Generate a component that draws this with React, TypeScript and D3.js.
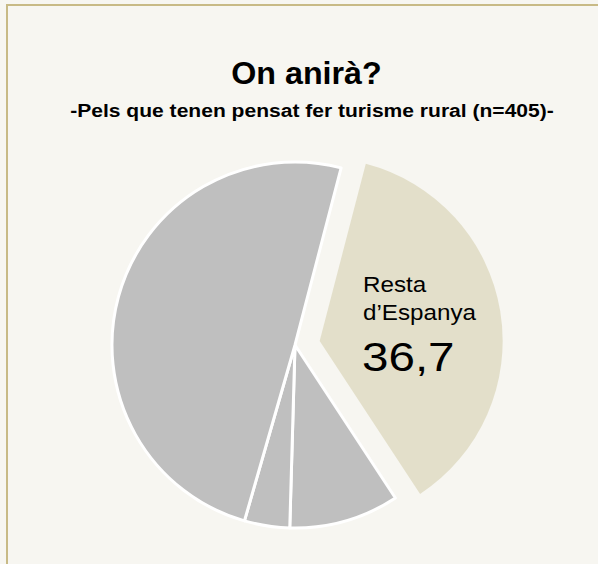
import React from "react";
import * as d3 from "d3";

const categories = ["Resta d’Espanya", "Estranger", "No ho sap", "Catalunya"];
const values = [36.7, 9.7, 4.0, 49.6];
const highlighted = "Resta d’Espanya";
const valueLabel = "36,7";
const title = "On anirà?";
const subtitle = "-Pels que tenen pensat fer turisme rural (n=405)-";

const W = 598;
const H = 564;
const cx = 295;
const cy = 345;
const R = 183;
const explode = 25;
const startDeg = 14.6;

export default function App() {
  const data = categories.map((c, i) => ({ c, v: values[i] }));
  const start = (startDeg * Math.PI) / 180;
  const pie = d3
    .pie<{ c: string; v: number }>()
    .value((d) => d.v)
    .sort(null)
    .startAngle(start)
    .endAngle(start + 2 * Math.PI);
  const arcs = pie(data);
  const arc = d3.arc<d3.PieArcDatum<{ c: string; v: number }>>().innerRadius(0).outerRadius(R);

  return (
    <svg
      width={W}
      height={H}
      style={{ position: "absolute", left: 0, top: 0, background: "#f7f6f1" }}
      fontFamily="'Liberation Sans', Arial, sans-serif"
    >
      <rect x={0} y={0} width={W} height={H} fill="#f7f6f1" />
      <rect x={7} y={5} width={800} height={800} fill="none" stroke="#c8ba86" strokeWidth={2} />
      <g transform="translate(306.5,84) scale(1.04,1)">
        <text textAnchor="middle" fontSize={31} fontWeight="bold" fill="#000">
          {title}
        </text>
      </g>
      <g transform="translate(312,117) scale(1.15,1)">
        <text textAnchor="middle" fontSize={18.3} fontWeight="bold" fill="#000">
          {subtitle}
        </text>
      </g>
      <g transform={`translate(${cx},${cy})`}>
        {arcs.map((a, i) => {
          const isHi = a.data.c === highlighted;
          const mid = (a.startAngle + a.endAngle) / 2;
          const dx = isHi ? Math.sin(mid) * explode : 0;
          const dy = isHi ? -Math.cos(mid) * explode : 0;
          return (
            <path
              key={i}
              d={arc(a) || ""}
              transform={`translate(${dx},${dy})`}
              fill={isHi ? "#e3dfca" : "#bfbfbf"}
              stroke={isHi ? "none" : "#ffffff"}
              strokeWidth={3}
              strokeLinejoin="round"
            />
          );
        })}
      </g>
      <g transform="translate(363,292) scale(1.1,1)">
        <text fontSize={22} fill="#000">Resta</text>
      </g>
      <g transform="translate(363,320) scale(1.1,1)">
        <text fontSize={22} fill="#000">d’Espanya</text>
      </g>
      <g transform="translate(362,371) scale(1.16,1)">
        <text fontSize={41} fill="#000">{valueLabel}</text>
      </g>
    </svg>
  );
}
